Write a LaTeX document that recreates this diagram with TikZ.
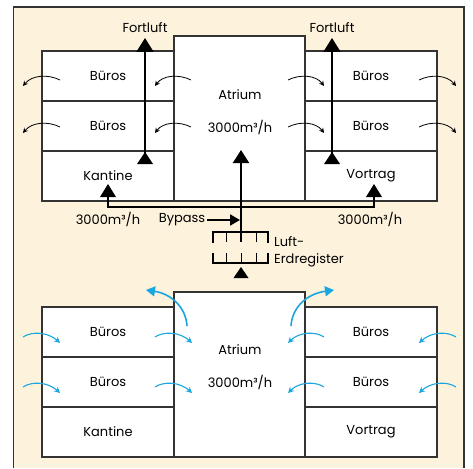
\documentclass[tikz,border=0pt]{standalone}
\usepackage{fontspec}
\setmainfont{Poppins}
\usetikzlibrary{arrows.meta}
\definecolor{cream}{HTML}{FDF3DC}
\definecolor{sky}{HTML}{1AA7E1}
\definecolor{framec}{HTML}{333333}
\newcommand\uptri[3]{\fill #1 ++(-#2/2,0) -- ++(#2,0) -- ++(-#2/2,-#3) -- cycle;}
\begin{document}
\begin{tikzpicture}[x=1pt,y=-1pt,
  txt/.style={inner sep=0pt, font=\fontsize{13}{15}\selectfont},
  room/.style={txt, draw=framec, line width=1.2pt, fill=white, minimum width=132pt, minimum height=50pt},
  hall/.style={draw=framec, line width=1.2pt, fill=white, inner sep=0pt, minimum width=131pt, minimum height=165pt},
  flow/.style={line width=2pt},
  blackarr/.style={line width=0.8pt, -{Stealth[length=5pt,width=5pt]}},
  bluearr/.style={sky, line width=1.1pt, -{Stealth[length=6pt,width=6pt]}},
  bigblue/.style={sky, line width=1.6pt, -{Triangle[length=9pt,width=10pt]}},
]
\useasboundingbox (0,0) rectangle (473,468);
\fill[cream] (13.5,7) rectangle (464,468);
\draw[framec, line width=1.2pt] (13.5,468) -- (13.5,7) -- (464,7) -- (464,468);

% ---------- top building ----------
\node[hall] (ta) at (239.5,118.5) {};
\node[room] (tl1) at (108,76) {Büros};
\node[room] (tl2) at (108,126) {Büros};
\node[room] (tl3) at (108,176) {Kantine};
\node[room] (tr1) at (371,76) {Büros};
\node[room] (tr2) at (371,126) {Büros};
\node[room] (tr3) at (371,176) {Vortrag};
\node[txt] (tat) at (240,95) {Atrium};
\node[txt] (tav) at (240,127) {3000m³/h};

% Fortluft
\node[txt] (fl1) at (145,28) {Fortluft};
\node[txt] (fl2) at (332,28) {Fortluft};
\coordinate (fl1t) at (145,38);
\coordinate (fl2t) at (332,38);
\coordinate (fl1b) at (145,164);
\coordinate (fl2b) at (332,164);
\draw[flow,-{Triangle[length=14pt,width=17pt]}] (fl1b) -- (fl1t);
\draw[flow,-{Triangle[length=14pt,width=17pt]}] (fl2b) -- (fl2t);
\uptri{(fl1b)}{16}{12}
\uptri{(fl2b)}{16}{12}

% black room arrows
\foreach \y in {80,127}{
  \draw[blackarr] (60,\y) .. controls (48,\y-6) and (32,\y-5) .. (23,\y+6);
  \draw[blackarr] (191,\y) .. controls (179,\y-6) and (163,\y-5) .. (155,\y+6);
  \draw[blackarr] (288,\y) .. controls (300,\y-6) and (316,\y-5) .. (324,\y+6);
  \draw[blackarr] (419,\y) .. controls (431,\y-6) and (447,\y-5) .. (456,\y+6);
}

% supply lines
\coordinate (kb) at (108,197);
\coordinate (vb) at (374,197);
\draw[flow] (kb) -- (108,207) -- (374,207) -- (vb);
\uptri{(kb)}{16}{13}
\uptri{(vb)}{16}{13}
\node[txt] (vl) at (108,219) {3000m³/h};
\node[txt] (vr) at (370,219) {3000m³/h};

% Erdregister
\coordinate (et) at (241,242);
\draw[flow,-{Triangle[length=13pt,width=16pt]}] (et) -- (241,150);
\draw[flow] (213,243) -- (213,232) -- (268,232) -- (268,243);
\draw[flow] (213,253) -- (213,263) -- (268,263) -- (268,253);
\draw[line width=1pt] (226,232) -- (226,242) (256,232) -- (256,242)
  (226,263) -- (226,253) (241,263) -- (241,253) (256,263) -- (256,253);
\uptri{(241,278)}{15}{11}
\node[txt, anchor=west] (lu1) at (274,242) {Luft-};
\node[txt, anchor=west] (lu2) at (274,260) {Erdregister};

% Bypass
\node[txt] (bp) at (182,220) {Bypass};
\coordinate (bpe) at (240,220);
\draw[flow,-{Triangle[length=10pt,width=11pt]}] (bp.east) ++(2,0) -- (bpe);

% ---------- bottom building ----------
\node[hall] (ba) at (239.5,374.5) {};
\node[room] (bl1) at (108,332) {Büros};
\node[room] (bl2) at (108,382) {Büros};
\node[room] (bl3) at (108,432) {Kantine};
\node[room] (br1) at (371,332) {Büros};
\node[room] (br2) at (371,382) {Büros};
\node[room] (br3) at (371,432) {Vortrag};
\node[txt] (bat) at (240,350) {Atrium};
\node[txt] (bav) at (240,382) {3000m³/h};

\foreach \y in {337,387}{
  \draw[bluearr] (23,\y) .. controls (32,\y-6) and (48,\y-5) .. (60,\y+6);
  \draw[bluearr] (155,\y) .. controls (164,\y-6) and (180,\y-5) .. (192,\y+6);
  \draw[bluearr] (324,\y) .. controls (315,\y-6) and (299,\y-5) .. (288,\y+6);
  \draw[bluearr] (456,\y) .. controls (447,\y-6) and (431,\y-5) .. (419,\y+6);
}
\draw[bigblue] (187,326) .. controls (186,308) and (172,294) .. (146,290);
\draw[bigblue] (291,326) .. controls (292,308) and (306,294) .. (334,290);
\end{tikzpicture}
\end{document}
